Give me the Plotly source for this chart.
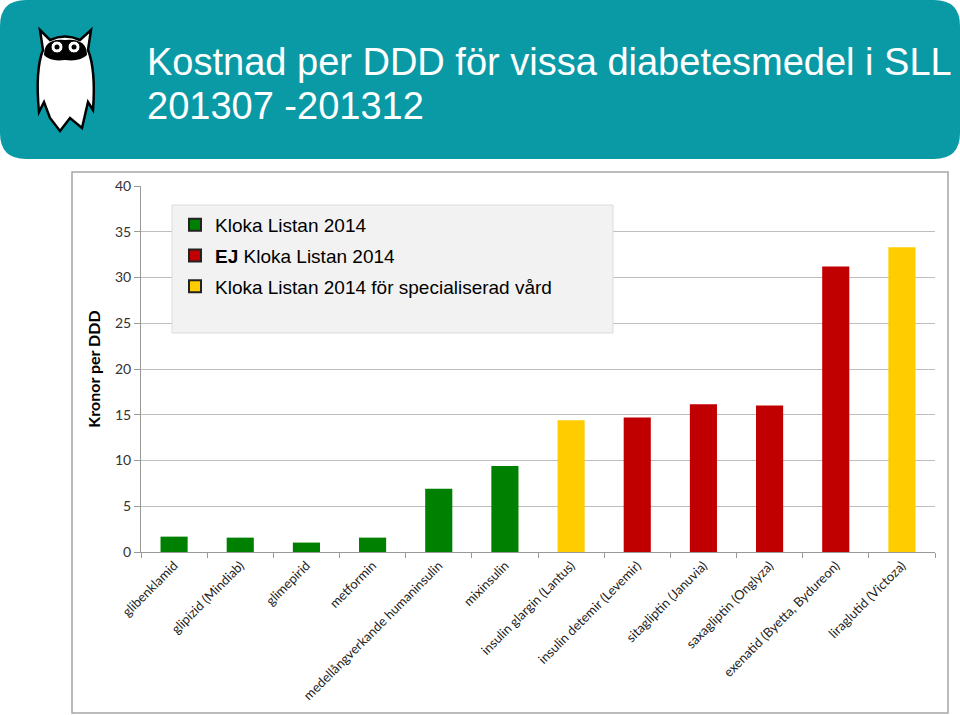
import plotly.graph_objects as go

# ---- data ----
categories = [
    "glibenklamid", "glipizid (Mindiab)", "glimepirid", "metformin",
    "medellångverkande humaninsulin", "mixinsulin", "insulin glargin (Lantus)",
    "insulin detemir (Levemir)", "sitagliptin (Januvia)", "saxagliptin (Onglyza)",
    "exenatid (Byetta, Bydureon)", "liraglutid (Victoza)",
]
values = [1.68, 1.57, 1.03, 1.57, 6.92, 9.39, 14.4, 14.7, 16.15, 16.0, 31.2, 33.3]
groups = ["KL", "KL", "KL", "KL", "KL", "KL", "SPEC", "EJ", "EJ", "EJ", "EJ", "SPEC"]

group_names = {
    "KL": "Kloka Listan 2014",
    "EJ": "<b>EJ</b> Kloka Listan 2014",
    "SPEC": "Kloka Listan 2014 för specialiserad vård",
}
group_colors = {"KL": "#008000", "EJ": "#C00000", "SPEC": "#FFCC00"}
legend_order = ["KL", "EJ", "SPEC"]

y_ticks = [0, 5, 10, 15, 20, 25, 30, 35, 40]

title_lines = ["Kostnad per DDD för vissa diabetesmedel i SLL", "201307 -201312"]
y_title = "Kronor per DDD"

# ---- layout geometry (pixels) ----
W, H = 960, 715
L, R, T, B = 141, 935, 186, 552


def px(x):
    return (x - L) / (R - L)


def py(y):
    return (B - y) / (B - T)


fig = go.Figure()

for g in legend_order:
    xs = [c for c, gg in zip(categories, groups) if gg == g]
    ys = [v for v, gg in zip(values, groups) if gg == g]
    fig.add_trace(go.Bar(
        x=xs, y=ys, width=0.41, marker=dict(color=group_colors[g], line=dict(width=0)),
        showlegend=False, hoverinfo="x+y",
    ))

# legend-only traces (squares with dark border)
for g in legend_order:
    fig.add_trace(go.Bar(
        x=[categories[0]], y=[None], name=group_names[g], legendgroup=g,
        marker=dict(color=group_colors[g], line=dict(color="#222222", width=1.5)),
        showlegend=True,
    ))

shapes = []
# header rounded box
x0, x1, y0, y1, r = 0, 960, 0, 159, 26
path = (f"M {px(x0 + r)},{py(y0)} L {px(x1 - r)},{py(y0)} "
        f"Q {px(x1)},{py(y0)} {px(x1)},{py(y0 + r)} "
        f"L {px(x1)},{py(y1 - r)} Q {px(x1)},{py(y1)} {px(x1 - r)},{py(y1)} "
        f"L {px(x0 + r)},{py(y1)} Q {px(x0)},{py(y1)} {px(x0)},{py(y1 - r)} "
        f"L {px(x0)},{py(y0 + r)} Q {px(x0)},{py(y0)} {px(x0 + r)},{py(y0)} Z")
shapes.append(dict(type="path", xref="paper", yref="paper", path=path,
                   fillcolor="#0A9AA6", line=dict(width=0), layer="below"))

# owl logo (simple approximation)
owl = (f"M {px(40)},{py(30)} L {px(50)},{py(40)} "
       f"Q {px(65)},{py(33)} {px(80)},{py(40)} L {px(91)},{py(30)} "
       f"L {px(88)},{py(50)} Q {px(96)},{py(70)} {px(93)},{py(110)} "
       f"L {px(88)},{py(102)} L {px(82)},{py(128)} L {px(70)},{py(118)} "
       f"L {px(60)},{py(131)} L {px(50)},{py(118)} L {px(44)},{py(102)} L {px(39)},{py(112)} "
       f"Q {px(35)},{py(70)} {px(43)},{py(50)} Z")
shapes.append(dict(type="path", xref="paper", yref="paper", path=owl,
                   fillcolor="white", line=dict(color="black", width=2.5)))
shapes.append(dict(type="path", xref="paper", yref="paper",
                   path=(f"M {px(44)},{py(55)} Q {px(44)},{py(38)} {px(65)},{py(40)} "
                         f"Q {px(87)},{py(38)} {px(87)},{py(55)} "
                         f"Q {px(80)},{py(62)} {px(65)},{py(60)} Q {px(50)},{py(62)} {px(44)},{py(55)} Z"),
                   fillcolor="black", line=dict(width=0)))
for cx in (57, 74):
    shapes.append(dict(type="circle", xref="paper", yref="paper",
                       x0=px(cx - 6), x1=px(cx + 6), y0=py(53), y1=py(41),
                       fillcolor="white", line=dict(color="black", width=1)))
    shapes.append(dict(type="circle", xref="paper", yref="paper",
                       x0=px(cx - 2.5), x1=px(cx + 2.5), y0=py(49.5), y1=py(44.5),
                       fillcolor="black", line=dict(width=0)))

# chart frame
shapes.append(dict(type="rect", xref="paper", yref="paper",
                   x0=px(72), x1=px(948), y0=py(713), y1=py(172),
                   line=dict(color="#A6A6A6", width=1.5), fillcolor="rgba(0,0,0,0)", layer="below"))
# legend background
shapes.append(dict(type="rect", xref="paper", yref="paper",
                   x0=px(172), x1=px(613), y0=py(333), y1=py(205),
                   line=dict(color="#DCDCDC", width=1), fillcolor="#F2F2F2", layer="above"))

title_font = dict(family="Liberation Sans, Arial", size=38, color="white")
annotations = [
    dict(text=title_lines[0], xref="paper", yref="paper",
         x=px(145), y=py(62), xanchor="left", yanchor="middle", showarrow=False, font=title_font),
    dict(text=title_lines[1], xref="paper", yref="paper",
         x=px(145), y=py(106), xanchor="left", yanchor="middle", showarrow=False, font=title_font),
]

fig.update_layout(
    width=W, height=H,
    margin=dict(l=L, r=W - R, t=T, b=H - B, autoexpand=False),
    paper_bgcolor="white", plot_bgcolor="white",
    barmode="overlay",
    shapes=shapes, annotations=annotations,
    showlegend=True,
    legend=dict(
        x=px(175), y=py(206), xanchor="left", yanchor="top",
        bgcolor="rgba(0,0,0,0)", borderwidth=0,
        font=dict(family="Liberation Sans, Arial", size=19, color="black"),
        itemsizing="constant", tracegroupgap=3,
    ),
    xaxis=dict(
        categoryorder="array", categoryarray=categories, type="category",
        tickangle=-45, tickfont=dict(family="Lato, Open Sans", size=13, color="#222222"),
        showline=True, linecolor="#999999", linewidth=1,
        ticks="outside", tickson="boundaries", ticklen=5, tickcolor="#999999",
        showgrid=False, range=[-0.5, 11.5],
    ),
    yaxis=dict(
        range=[0, 40], tickvals=y_ticks, showgrid=True, gridcolor="#BDBDBD", gridwidth=1,
        showline=True, linecolor="#999999", linewidth=1,
        ticks="outside", ticklen=6, tickcolor="#999999",
        tickfont=dict(family="Lato, Open Sans", size=14, color="#333333"),
        zeroline=False,
        title=dict(text="<b>" + y_title + "</b>", standoff=10,
                   font=dict(family="Lato, Open Sans", size=16, color="black")),
    ),
)

fig.write_html("out.html", config={"displayModeBar": False},
               post_script="document.body.style.margin='0';document.body.style.overflow='hidden';")
